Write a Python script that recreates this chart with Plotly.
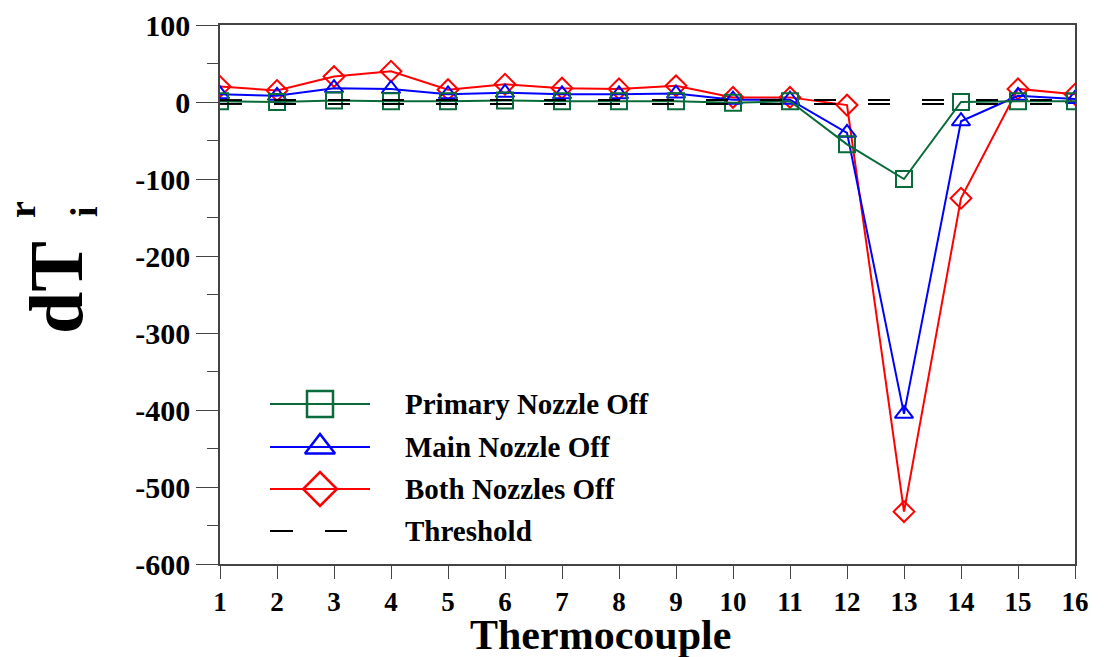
import plotly.graph_objects as go

# ---- data ----
thermocouple = list(range(1, 17))
primary_off = [1, 0, 2, 1, 1, 2, 1, 1, 1, -1, 1, -55, -100, 0, 1, 1]
main_off = [10, 8, 18, 17, 10, 12, 10, 10, 11, 3, 3, -40, -405, -25, 8, 4]
both_off = [20, 15, 33, 40, 16, 23, 18, 17, 21, 6, 6, -4, -532, -125, 17, 10]
threshold_hi = [2.5] * 16
threshold_lo = [-2.5] * 16
y_ticks = [100, 0, -100, -200, -300, -400, -500, -600]

series_names = ["Primary Nozzle Off", "Main Nozzle Off", "Both Nozzles Off", "Threshold"]

GREEN = "#0a6b3a"
BLUE = "#0000ff"
RED = "#ff0000"
FONT = "Liberation Serif"

W, H = 1104, 657
L, R, T, B = 220, 1075, 25, 564

fig = go.Figure()

def add_series(y, color, symbol, name):
    fig.add_trace(go.Scatter(
        x=thermocouple, y=y, mode="lines+markers", name=name,
        line=dict(color=color, width=2),
        marker=dict(symbol=symbol, size=16, color=color,
                    line=dict(color=color, width=2)),
        showlegend=False))

add_series(both_off, RED, "diamond-open", series_names[2])
add_series(main_off, BLUE, "triangle-up-open", series_names[1])
add_series(primary_off, GREEN, "square-open", series_names[0])

for th in (threshold_hi, threshold_lo):
    fig.add_trace(go.Scatter(
        x=thermocouple, y=th, mode="lines", name=series_names[3],
        line=dict(color="black", width=2, dash="22px,32px"),
        showlegend=False))

# ---- custom legend on an overlay axis (0..1 both ways) ----
def px2x(px):
    return (px - L) / (R - L)

def px2y(py):
    return (B - py) / (B - T)

leg_rows = [404, 447, 489, 531]
leg_specs = [(GREEN, "square-open"), (BLUE, "triangle-up-open"), (RED, "diamond-open")]
for (color, sym), py in zip(leg_specs, leg_rows[:3]):
    fig.add_trace(go.Scatter(
        x=[px2x(270), px2x(370)], y=[px2y(py), px2y(py)], mode="lines",
        line=dict(color=color, width=2), xaxis="x2", yaxis="y2",
        showlegend=False, hoverinfo="skip"))
    fig.add_trace(go.Scatter(
        x=[px2x(320)], y=[px2y(py)], mode="markers",
        marker=dict(symbol=sym, size=26, color=color, line=dict(color=color, width=2.5)),
        xaxis="x2", yaxis="y2", showlegend=False, hoverinfo="skip"))
for x0, x1 in ((270, 293), (325, 347)):
    fig.add_trace(go.Scatter(
        x=[px2x(x0), px2x(x1)], y=[px2y(leg_rows[3])] * 2, mode="lines",
        line=dict(color="black", width=2), xaxis="x2", yaxis="y2",
        showlegend=False, hoverinfo="skip"))

annotations = []
for name, py in zip(series_names, leg_rows):
    annotations.append(dict(
        x=px2x(403), y=px2y(py), xref="paper", yref="paper",
        text=name, showarrow=False, xanchor="left", yanchor="middle",
        font=dict(family=FONT, size=29, color="black", weight="bold")))

# ---- axis titles ----
annotations.append(dict(x=px2x(600), y=px2y(635), xref="paper", yref="paper",
                        text="Thermocouple", showarrow=False,
                        xanchor="center", yanchor="middle",
                        font=dict(family=FONT, size=42, color="black", weight="bold")))
annotations.append(dict(x=px2x(56), y=px2y(288), xref="paper", yref="paper",
                        text="dT", textangle=-90, showarrow=False,
                        xanchor="center", yanchor="middle",
                        font=dict(family=FONT, size=76, color="black", weight="bold")))
annotations.append(dict(x=px2x(22), y=px2y(210), xref="paper", yref="paper",
                        text="r", textangle=-90, showarrow=False,
                        xanchor="center", yanchor="middle",
                        font=dict(family=FONT, size=38, color="black", weight="bold")))
annotations.append(dict(x=px2x(84), y=px2y(212), xref="paper", yref="paper",
                        text="i", textangle=-90, showarrow=False,
                        xanchor="center", yanchor="middle",
                        font=dict(family=FONT, size=38, color="black", weight="bold")))

AX = "#444444"
fig.update_layout(
    width=W, height=H,
    margin=dict(l=L, r=W - R, t=T, b=H - B, pad=0, autoexpand=False),
    plot_bgcolor="white", paper_bgcolor="white",
    showlegend=False,
    annotations=annotations,
    xaxis=dict(
        range=[1, 16], tickmode="array", tickvals=thermocouple,
        ticktext=[str(v) for v in thermocouple],
        showgrid=False, zeroline=False, automargin=False,
        showline=True, linecolor=AX, linewidth=1.5, mirror=True,
        ticks="outside", ticklen=13, tickwidth=1.2, tickcolor=AX,
        tickfont=dict(family=FONT, size=27, color="black", weight="bold"),
    ),
    yaxis=dict(
        range=[-600, 100], tickmode="array", tickvals=y_ticks,
        ticktext=[str(v) for v in y_ticks],
        showgrid=False, zeroline=False, automargin=False,
        showline=True, linecolor=AX, linewidth=1.5, mirror=True,
        ticks="outside", ticklen=22, tickwidth=1.2, tickcolor=AX,
        minor=dict(dtick=50, tick0=0, ticks="outside", ticklen=11, tickwidth=1.2, tickcolor=AX),
        tickfont=dict(family=FONT, size=30, color="black", weight="bold"),
    ),
    xaxis2=dict(domain=[0, 1], range=[0, 1], overlaying="x", visible=False, fixedrange=True),
    yaxis2=dict(domain=[0, 1], range=[0, 1], overlaying="y", visible=False, fixedrange=True),
)

fig.write_html("out.html")
